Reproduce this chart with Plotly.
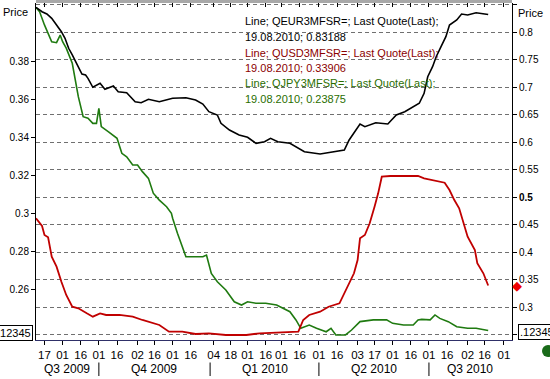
import plotly.graph_objects as go
import pandas as pd

eur_dates = ["2009-08-10","2009-08-15","2009-08-19","2009-08-23","2009-08-27","2009-08-31","2009-09-03","2009-09-06","2009-09-09","2009-09-13","2009-09-17","2009-09-20","2009-09-22","2009-09-26","2009-10-02","2009-10-06","2009-10-13","2009-10-17","2009-10-24","2009-10-31","2009-11-05","2009-11-11","2009-11-20","2009-12-01","2009-12-12","2009-12-20","2009-12-26","2009-12-31","2010-01-07","2010-01-10","2010-01-17","2010-01-25","2010-02-01","2010-02-08","2010-02-15","2010-02-20","2010-02-26","2010-03-08","2010-03-13","2010-03-20","2010-04-02","2010-04-13","2010-04-22","2010-04-26","2010-04-30","2010-05-05","2010-05-09","2010-05-18","2010-05-28","2010-06-04","2010-06-11","2010-06-23","2010-06-27","2010-06-30","2010-07-04","2010-07-07","2010-07-11","2010-07-15","2010-07-18","2010-07-24","2010-07-28","2010-08-02","2010-08-09","2010-08-19"]
eur_values = [0.8449,0.8369,0.8327,0.8249,0.8127,0.8005,0.7885,0.7704,0.7582,0.7400,0.7236,0.7218,0.7158,0.6995,0.7067,0.6958,0.7018,0.6915,0.6896,0.6733,0.6715,0.6776,0.6733,0.6795,0.6805,0.6764,0.6691,0.6551,0.6491,0.6340,0.6218,0.6127,0.6085,0.5976,0.6005,0.6067,0.6005,0.5976,0.5915,0.5824,0.5782,0.5824,0.5855,0.6036,0.6158,0.6327,0.6278,0.6351,0.6327,0.6491,0.6551,0.6704,0.6885,0.7187,0.7369,0.7551,0.7733,0.7915,0.8127,0.8218,0.8327,0.8309,0.8351,0.83188]

usd_dates = ["2009-08-10","2009-08-15","2009-08-17","2009-08-20","2009-08-23","2009-08-27","2009-08-31","2009-09-04","2009-09-09","2009-09-14","2009-09-21","2009-09-26","2009-10-02","2009-10-07","2009-10-18","2009-10-29","2009-11-06","2009-11-13","2009-11-18","2009-11-20","2009-11-28","2009-12-09","2009-12-20","2009-12-31","2010-01-14","2010-01-31","2010-02-11","2010-02-27","2010-03-08","2010-03-15","2010-03-19","2010-03-24","2010-04-02","2010-04-09","2010-04-18","2010-04-22","2010-04-26","2010-04-30","2010-05-03","2010-05-05","2010-05-09","2010-05-13","2010-05-17","2010-05-20","2010-05-23","2010-05-30","2010-06-10","2010-06-22","2010-06-27","2010-07-06","2010-07-14","2010-07-18","2010-07-22","2010-07-26","2010-07-30","2010-08-02","2010-08-08","2010-08-10","2010-08-15","2010-08-19"]
usd_values = [0.4613,0.4473,0.4309,0.4267,0.3915,0.3733,0.3460,0.3218,0.3005,0.2976,0.2885,0.2824,0.2885,0.2855,0.2855,0.2824,0.2764,0.2715,0.2691,0.2673,0.2551,0.2551,0.2509,0.2522,0.2491,0.2491,0.2522,0.2533,0.2551,0.2551,0.2764,0.2855,0.2915,0.3005,0.3067,0.3249,0.3431,0.3613,0.3855,0.4249,0.4309,0.4522,0.4824,0.5067,0.5369,0.5382,0.5382,0.5382,0.5340,0.5296,0.5260,0.5127,0.4945,0.4795,0.4522,0.4278,0.4036,0.3795,0.3613,0.33906]

jpy_dates = ["2009-08-10","2009-08-13","2009-08-17","2009-08-23","2009-08-27","2009-08-30","2009-09-01","2009-09-04","2009-09-09","2009-09-11","2009-09-14","2009-09-18","2009-09-22","2009-09-26","2009-09-29","2009-10-01","2009-10-03","2009-10-09","2009-10-16","2009-10-20","2009-10-24","2009-10-29","2009-11-02","2009-11-06","2009-11-11","2009-11-15","2009-11-20","2009-11-26","2009-11-30","2009-12-01","2009-12-05","2009-12-12","2009-12-26","2009-12-29","2010-01-02","2010-01-07","2010-01-14","2010-01-21","2010-01-27","2010-02-01","2010-02-08","2010-02-16","2010-02-25","2010-03-08","2010-03-13","2010-03-17","2010-03-24","2010-03-30","2010-04-07","2010-04-11","2010-04-15","2010-04-23","2010-04-28","2010-05-05","2010-05-16","2010-05-27","2010-06-01","2010-06-10","2010-06-18","2010-06-22","2010-06-25","2010-07-02","2010-07-06","2010-07-10","2010-07-17","2010-07-24","2010-08-02","2010-08-09","2010-08-15","2010-08-19"]
jpy_values = [0.4081,0.4058,0.3989,0.3901,0.3896,0.3936,0.3901,0.3867,0.3788,0.3718,0.3613,0.3508,0.3500,0.3473,0.3473,0.3552,0.3456,0.3429,0.3395,0.3316,0.3298,0.3255,0.3255,0.3220,0.3185,0.3107,0.3071,0.3036,0.3002,0.2976,0.2897,0.2774,0.2774,0.2783,0.2687,0.2643,0.2600,0.2538,0.2521,0.2538,0.2530,0.2530,0.2521,0.2486,0.2443,0.2399,0.2416,0.2399,0.2381,0.2399,0.2364,0.2364,0.2390,0.2434,0.2443,0.2443,0.2425,0.2416,0.2416,0.2443,0.2446,0.2443,0.2469,0.2451,0.2434,0.2407,0.2399,0.2399,0.2390,0.23875]

xtick_dates = ["2009-08-17","2009-09-01","2009-09-16","2009-10-01","2009-10-16","2009-11-02","2009-11-16","2009-12-01","2009-12-16","2010-01-04","2010-01-18","2010-02-01","2010-02-16","2010-03-01","2010-03-16","2010-04-01","2010-04-16","2010-05-03","2010-05-17","2010-06-01","2010-06-16","2010-07-01","2010-07-16","2010-08-02","2010-08-16","2010-09-01"]
xtick_labels = ["17","01","16","01","16","02","16","01","16","04","18","01","16","01","16","01","16","03","17","01","16","01","16","02","16","01"]
quarter_labels = ["Q3 2009","Q4 2009","Q1 2010","Q2 2010","Q3 2010"]
quarter_bounds = ["2009-08-10","2009-10-01","2010-01-01","2010-04-01","2010-07-01","2010-09-07 16:48"]
left_ticks = [0.26,0.28,0.30,0.32,0.34,0.36,0.38]
left_labels = ["0.26","0.28","0.3","0.32","0.34","0.36","0.38"]
right_ticks = [0.25,0.30,0.35,0.40,0.45,0.50,0.55,0.60,0.65,0.70,0.75,0.80,0.85]
right_labels = ["","0.3","0.35","0.4","0.45","<b>0.5</b>","0.55","0.6","0.65","0.7","0.75","0.8",""]
legend_lines = [
    ("Line; QEUR3MFSR=; Last Quote(Last);", "#000000"),
    ("19.08.2010; 0.83188", "#000000"),
    ("Line; QUSD3MFSR=; Last Quote(Last);", "#8b0000"),
    ("19.08.2010; 0.33906", "#8b0000"),
    ("Line; QJPY3MFSR=; Last Quote(Last);", "#2a6e00"),
    ("19.08.2010; 0.23875", "#2a6e00"),
]

W, H = 550, 379
ML, MR, MT, MB = 36, 38, 3, 39
PW, PH = W - ML - MR, H - MT - MB

def px(xp):
    return (xp - ML) / PW

def py(yp):
    return (H - MB - yp) / PH

FONT = "Liberation Sans, Arial, sans-serif"
xrange_ = [quarter_bounds[0], quarter_bounds[-1]]

fig = go.Figure()
fig.add_trace(go.Scatter(x=eur_dates, y=eur_values, mode="lines", yaxis="y2",
                         line=dict(color="#000000", width=1.6), showlegend=False))
fig.add_trace(go.Scatter(x=usd_dates, y=usd_values, mode="lines", yaxis="y2",
                         line=dict(color="#c00000", width=1.8), showlegend=False))
fig.add_trace(go.Scatter(x=jpy_dates, y=jpy_values, mode="lines", yaxis="y",
                         line=dict(color="#1f7a10", width=1.6), showlegend=False))
# invisible trace to activate top tick axis
fig.add_trace(go.Scatter(x=[eur_dates[0]], y=[eur_values[0]], xaxis="x2", yaxis="y2",
                         mode="markers", marker=dict(opacity=0), showlegend=False, hoverinfo="skip"))

shapes = []
annotations = []

shapes.append(dict(type="rect", xref="paper", yref="paper", x0=px(241), x1=px(436),
                   y0=py(107), y1=py(13), fillcolor="white", line=dict(width=0), layer="between"))
shapes.append(dict(type="line", xref="paper", yref="paper", x0=0, x1=1, y0=py(1.5), y1=py(1.5),
                   line=dict(color="#a8a8a8", width=3)))
shapes.append(dict(type="circle", xref="paper", yref="paper", x0=px(542), x1=px(554),
                   y0=py(357), y1=py(345), fillcolor="#1a6b1a", line=dict(width=0)))

# last value marker for USD on right axis
annotations.append(dict(xref="paper", yref="y2", x=px(517), y=usd_values[-1],
                        xanchor="center", yanchor="middle", text="\u25c6", showarrow=False,
                        font=dict(family="DejaVu Sans", size=13, color="#ee0000")))

for i, (txt, col) in enumerate(legend_lines):
    annotations.append(dict(xref="paper", yref="paper", x=px(242.5), y=py(21.5 + 15.5 * i),
                            xanchor="left", yanchor="middle", text=txt, showarrow=False,
                            font=dict(family=FONT, size=11, color=col)))

for i, q in enumerate(quarter_labels):
    a = pd.Timestamp(quarter_bounds[i]); b = pd.Timestamp(quarter_bounds[i + 1])
    annotations.append(dict(xref="x", yref="paper", x=a + (b - a) / 2, y=py(369),
                            xanchor="center", yanchor="middle", text=q, showarrow=False,
                            font=dict(family=FONT, size=12, color="#000")))
for d in quarter_bounds[1:-1]:
    annotations.append(dict(xref="x", yref="paper", x=d, y=py(376), text="",
                            showarrow=True, arrowhead=0, arrowwidth=1, arrowcolor="#000",
                            ax=0, ay=-15, standoff=0, startstandoff=0))

annotations.append(dict(xref="paper", yref="paper", x=px(1), y=py(12), xanchor="left",
                        yanchor="middle", text="Price", showarrow=False,
                        font=dict(family=FONT, size=11, color="#000")))
annotations.append(dict(xref="paper", yref="paper", x=px(516), y=py(13), xanchor="left",
                        yanchor="middle", text="Price", showarrow=False,
                        font=dict(family=FONT, size=11, color="#000")))
annotations.append(dict(xref="paper", yref="paper", x=px(33), y=py(332.5), xanchor="right",
                        yanchor="middle", text=".12345", showarrow=False, bgcolor="white",
                        bordercolor="#000", borderwidth=1, borderpad=1,
                        font=dict(family=FONT, size=11, color="#000")))
annotations.append(dict(xref="paper", yref="paper", x=px(518), y=py(332), xanchor="left",
                        yanchor="middle", text=".12345", showarrow=False, bgcolor="white",
                        bordercolor="#000", borderwidth=1, borderpad=1,
                        font=dict(family=FONT, size=11, color="#000")))

fig.update_layout(
    width=W, height=H, margin=dict(l=ML, r=MR, t=MT, b=MB, pad=0),
    paper_bgcolor="white", plot_bgcolor="white", showlegend=False,
    font=dict(family=FONT, size=11, color="#000"),
    xaxis=dict(type="date", range=xrange_, tickvals=xtick_dates, ticktext=xtick_labels,
               ticks="outside", ticklen=4, tickcolor="#000", tickwidth=1,
               tickfont=dict(family=FONT, size=11.5, color="#000"),
               showgrid=False, zeroline=False, showline=True, linecolor="#2f3068", linewidth=1,
               mirror=False),
    xaxis2=dict(type="date", overlaying="x", side="top", range=xrange_, tickvals=xtick_dates,
                ticks="inside", ticklen=4, tickcolor="#000", showticklabels=False,
                showgrid=False, zeroline=False, showline=False),
    yaxis=dict(range=[0.23377, 0.41040], tickvals=left_ticks, ticktext=left_labels,
               ticks="outside", ticklen=4, tickcolor="#000", showgrid=False, zeroline=False,
               showline=True, linecolor="#000", linewidth=1,
               tickfont=dict(family=FONT, size=10, color="#000")),
    yaxis2=dict(range=[0.24, 0.85273], overlaying="y", side="right", tickvals=right_ticks,
                ticktext=right_labels, ticks="outside", ticklen=4, tickcolor="#000",
                showgrid=True, gridcolor="#707070", griddash="4px,3px", gridwidth=1,
                zeroline=False, showline=True, linecolor="#000", linewidth=1,
                tickfont=dict(family=FONT, size=10, color="#000")),
    shapes=shapes, annotations=annotations,
)

fig.write_html("out.html", config={"displayModeBar": False},
               post_script="document.body.style.margin='0';document.body.style.overflow='hidden';")
